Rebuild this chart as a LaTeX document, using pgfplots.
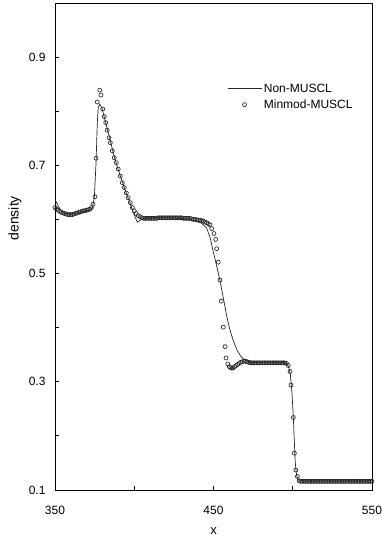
\documentclass[border=0pt]{standalone}
\usepackage{pgfplots}
\pgfplotsset{compat=1.18}
\usepackage{pgfplotstable}
\usepackage{fontspec}
\setmainfont{Liberation Sans}

\pgfplotstableread{
x y
350 0.637
351 0.631
352 0.625
353 0.620
354 0.616
355 0.613
356 0.611
358 0.610
360 0.610
362 0.611
364 0.612
366 0.613
368 0.615
370 0.616
372 0.618
373.5 0.621
374.8 0.640
375.9 0.705
376.7 0.779
377.3 0.807
378.2 0.813
379.5 0.807
381 0.790
383 0.767
385 0.744
387 0.720
389 0.700
391 0.682
393 0.665
395 0.648
397.3 0.631
399.5 0.612
401.9 0.595
404.5 0.600
407.8 0.603
420 0.603
430 0.602
435 0.600
438.3 0.598
442.5 0.593
445.7 0.584
447.8 0.567
449.9 0.540
452 0.514
454.1 0.487
456.2 0.455
458.3 0.422
460 0.400
461.5 0.385
463.5 0.368
465 0.358
467 0.348
469 0.342
471 0.339
474 0.336
478 0.335
495 0.335
496.5 0.333
497.5 0.327
498.5 0.313
499.5 0.280
500.4 0.232
501 0.190
501.5 0.155
502 0.137
502.6 0.125
503.4 0.119
505 0.117
550 0.117
}\nonmuscl

\pgfplotstableread{
x y
350 0.622
351 0.619
352 0.617
353 0.615
354 0.613
355 0.612
356 0.611
357 0.610
358 0.609
359 0.609
360 0.609
361 0.609
362 0.610
363 0.611
364 0.612
365 0.613
366 0.614
367 0.615
368 0.616
369 0.616
370 0.617
371 0.618
372 0.619
373 0.622
374.0 0.628
375.2 0.642
375.9 0.713
376.7 0.817
378.2 0.839
379.0 0.830
380.1 0.804
381.1 0.790
382.0 0.779
382.9 0.765
384.1 0.751
384.9 0.742
386.2 0.727
387.4 0.714
388.7 0.705
389.9 0.693
391.2 0.680
392.5 0.668
393.7 0.659
395.0 0.649
396.2 0.640
397.5 0.631
398.8 0.622
400.0 0.616
401.2 0.611
402.5 0.607
403.7 0.605
405 0.603
406 0.602
407 0.602
408 0.602
409 0.602
410 0.602
411 0.602
412 0.602
413 0.602
414 0.602
415 0.603
416 0.603
417 0.603
418 0.603
419 0.603
420 0.603
421 0.603
422 0.603
423 0.603
424 0.603
425 0.603
426 0.603
427 0.603
428 0.603
429 0.603
430 0.603
431 0.602
432 0.602
433 0.602
434 0.602
435 0.602
436 0.601
437.3 0.600
438.5 0.600
439.5 0.599
440.5 0.599
441.5 0.598
442.5 0.598
443.6 0.597
444.6 0.595
445.7 0.594
446.7 0.592
447.8 0.590
448.9 0.583
450.3 0.574
451.4 0.563
452.0 0.546
453.0 0.521
454.1 0.488
454.9 0.449
456.2 0.401
457.3 0.365
457.9 0.344
459.0 0.333
460.0 0.328
460.8 0.326
461.6 0.325
462.4 0.326
463.3 0.328
464.2 0.330
465.2 0.332
466.2 0.334
467.2 0.336
468.2 0.337
469.2 0.338
470.2 0.338
471.2 0.337
472.2 0.336
473.2 0.335
474 0.335
475 0.335
476 0.335
477 0.335
478 0.335
479 0.335
480 0.335
481 0.335
482 0.335
483 0.335
484 0.335
485 0.335
486 0.335
487 0.335
488 0.335
489 0.335
490 0.335
491 0.335
492 0.335
493 0.335
494 0.335
495 0.335
496 0.334
497.2 0.330
498.3 0.319
498.9 0.294
500.4 0.234
501.0 0.168
501.9 0.137
502.9 0.125
504.0 0.117
505 0.116
506 0.116
507 0.116
508 0.116
509 0.116
510 0.116
511 0.116
512 0.116
513 0.116
514 0.116
515 0.116
516 0.116
517 0.116
518 0.116
519 0.116
520 0.116
521 0.116
522 0.116
523 0.116
524 0.116
525 0.116
526 0.116
527 0.116
528 0.116
529 0.116
530 0.116
531 0.116
532 0.116
533 0.116
534 0.116
535 0.116
536 0.116
537 0.116
538 0.116
539 0.116
540 0.116
541 0.116
542 0.116
543 0.116
544 0.116
545 0.116
546 0.116
547 0.116
548 0.116
549 0.116
550 0.116
}\minmod

\begin{document}
\begin{tikzpicture}
\useasboundingbox (-55pt,-47pt) rectangle (327pt,490pt);
\begin{axis}[
  at={(0,0)}, anchor=south west,
  scale only axis, width=317pt, height=487pt,
  xmin=350, xmax=550, ymin=0.1, ymax=1.0,
  xtick={350,450,550}, xticklabels={350,450,550},
  minor xtick={400,500},
  ytick={0.1,0.3,0.5,0.7,0.9}, yticklabels={0.1,0.3,0.5,0.7,0.9},
  minor ytick={0.2,0.4,0.6,0.8},
  tick align=inside, xtick pos=left, ytick pos=left,
  major tick length=4pt, minor tick length=4pt,
  tick style={black, line width=0.8pt},
  axis line style={black, line width=0.9pt},
  tick label style={font=\fontsize{12}{14}\selectfont},
  xticklabel style={yshift=-13pt},
  yticklabel style={xshift=-6pt},
  every axis x label/.style={at={(axis description cs:0.5,0)}, yshift=-41pt, anchor=center, font=\fontsize{13}{15}\selectfont},
  every axis y label/.style={at={(axis description cs:0,0.558)}, xshift=-40pt, rotate=90, anchor=center, font=\fontsize{14}{16}\selectfont},
  xlabel={x}, ylabel={density},
  legend style={draw=none, fill=none, at={(axis description cs:0.533,0.843)}, anchor=north west,
    font=\fontsize{12}{14}\selectfont, row sep=2pt},
  legend cell align=left,
  legend image code/.code={\draw[#1,mark repeat=2,mark phase=2] plot coordinates {(0pt,0pt) (17pt,0pt) (34pt,0pt)};},
]
\addplot[black!85, line width=0.7pt, mark=none] table[x=x,y=y] {\nonmuscl};
\addlegendentry{Non-MUSCL}
\addplot[only marks, black!85, mark=o, mark size=2pt, mark options={line width=0.65pt}] table[x=x,y=y] {\minmod};
\addlegendentry{Minmod-MUSCL}
\end{axis}
\end{tikzpicture}
\end{document}
